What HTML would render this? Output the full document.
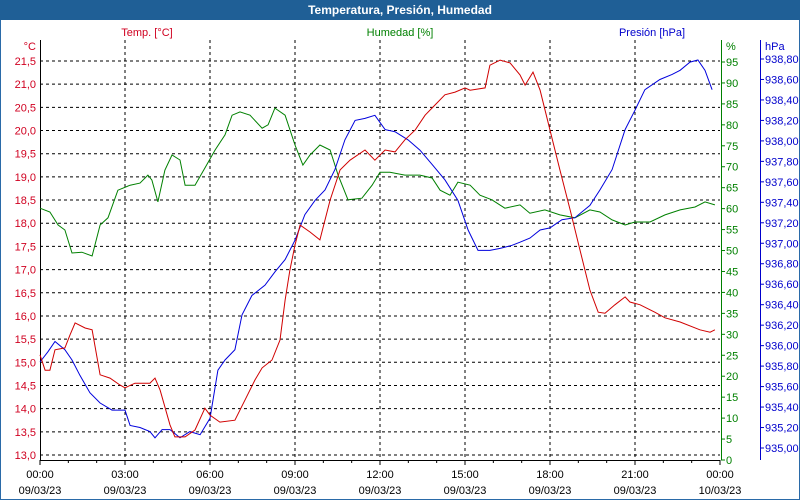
<!DOCTYPE html>
<html><head><meta charset="utf-8"><style>
body{margin:0;width:800px;height:500px;overflow:hidden;background:#fff;font-family:"Liberation Sans",sans-serif}
</style></head><body>
<svg id="c" width="800" height="500" style="position:absolute;left:0;top:0;font-family:'Liberation Sans',sans-serif;font-size:11px">
<rect x="0" y="0" width="800" height="500" fill="#fff" stroke="#2a6aa8" stroke-width="2"/>
<rect x="0" y="0" width="800" height="20" fill="#1f5f96"/>
<text x="400" y="14" fill="#fff" font-weight="bold" font-size="12" text-anchor="middle">Temperatura, Presión, Humedad</text>
<text x="147" y="36" fill="#d00020" text-anchor="middle">Temp. [°C]</text>
<text x="400" y="36" fill="#008000" text-anchor="middle">Humedad [%]</text>
<text x="652" y="36" fill="#0000cc" text-anchor="middle">Presión [hPa]</text>
<text x="36" y="50" fill="#d00020" text-anchor="end">°C</text>
<text x="726" y="50" fill="#008000">%</text>
<text x="765" y="50" fill="#0000cc">hPa</text>
<g id="grid"></g><g id="axes"></g><g id="series"></g>
</svg>
<script>
const tempH=[0,.18,.35,.53,.88,1.06,1.24,1.59,1.84,2.12,2.47,2.82,3,3.35,3.88,4.06,4.24,4.59,4.76,5.12,5.47,5.82,6,6.35,6.88,7.24,7.59,7.84,8.19,8.47,8.65,8.82,9,9.18,9.53,9.88,10.24,10.59,10.94,11.47,11.82,12.18,12.53,12.88,13.24,13.59,13.94,14.29,14.65,15,15.18,15.71,15.88,16.24,16.59,16.94,17.12,17.4,17.65,18,18.35,18.71,19.06,19.41,19.7,19.94,20.29,20.65,20.82,21.18,21.7,22.06,22.59,23.29,23.65,23.82];
const tempV=[15.16,14.83,14.83,15.27,15.31,15.59,15.85,15.74,15.70,14.73,14.66,14.51,14.45,14.55,14.55,14.66,14.40,13.65,13.39,13.39,13.54,14.01,13.86,13.71,13.75,14.19,14.62,14.88,15.05,15.48,16.34,16.99,17.53,17.96,17.81,17.64,18.50,19.15,19.36,19.58,19.36,19.58,19.54,19.80,20.01,20.33,20.55,20.77,20.83,20.92,20.87,20.92,21.41,21.52,21.46,21.20,20.98,21.26,20.87,20.01,19.15,18.29,17.42,16.56,16.08,16.06,16.24,16.41,16.30,16.24,16.08,15.96,15.87,15.70,15.65,15.70];
const humH=[0,.35,.64,.88,1.13,1.48,1.84,2.12,2.4,2.75,3.18,3.53,3.81,3.95,4.16,4.41,4.66,4.94,5.12,5.47,5.82,6.18,6.53,6.78,7.06,7.41,7.84,8.05,8.29,8.65,9,9.28,9.53,9.88,10.24,10.52,10.87,11.36,11.72,12,12.35,12.88,13.41,13.84,14.12,14.47,14.75,15.18,15.53,15.95,16.41,16.94,17.29,17.82,18.35,18.88,19.41,19.76,20.19,20.65,21,21.53,22.06,22.59,23.12,23.47,23.82];
const humV=[60.1,59.2,56.1,54.9,49.4,49.6,48.7,56.1,57.8,64.4,65.6,66.1,68.0,66.8,61.6,69.2,72.8,71.6,65.6,65.6,69.7,74.0,77.6,82.3,83.1,82.3,79.2,80.0,84.0,82.3,75.2,70.4,72.8,75.2,74.0,68.0,62.1,62.5,65.6,68.7,68.7,68.0,68.0,67.3,64.4,63.2,66.3,65.6,63.2,62.1,60.1,60.9,58.9,59.7,58.5,57.8,59.7,59.2,57.3,56.1,56.8,56.8,58.5,59.7,60.4,61.6,60.9];
const presH=[0,.28,.53,.88,1.13,1.41,1.76,2.12,2.54,3,3.18,3.53,3.88,4.06,4.31,4.59,4.94,5.29,5.65,6,6.28,6.53,6.88,7.13,7.48,7.94,8.29,8.65,9,9.35,9.71,10.06,10.41,10.76,11.12,11.47,11.82,12.18,12.53,12.99,13.41,13.84,14.29,14.75,15.11,15.46,15.88,16.24,16.66,16.94,17.29,17.65,18,18.42,18.88,19.41,19.76,20.19,20.65,21,21.35,21.88,22.31,22.59,22.94,23.22,23.47,23.72];
const presV=[935.84,935.94,936.04,935.96,935.86,935.71,935.54,935.44,935.37,935.37,935.22,935.20,935.16,935.10,935.18,935.18,935.10,935.16,935.13,935.29,935.76,935.86,935.96,936.30,936.49,936.59,936.72,936.84,937.03,937.28,937.42,937.52,937.72,938.01,938.20,938.22,938.25,938.11,938.09,938.01,937.91,937.77,937.62,937.42,937.13,936.93,936.93,936.95,936.98,937.01,937.05,937.13,937.15,937.23,937.25,937.37,937.52,937.72,938.11,938.30,938.50,938.60,938.65,938.69,938.77,938.79,938.69,938.50];
const tempTicks=[13.0,13.5,14.0,14.5,15.0,15.5,16.0,16.5,17.0,17.5,18.0,18.5,19.0,19.5,20.0,20.5,21.0,21.5];
const humTicks=[0,5,10,15,20,25,30,35,40,45,50,55,60,65,70,75,80,85,90,95];
const presTicks=[935.0,935.2,935.4,935.6,935.8,936.0,936.2,936.4,936.6,936.8,937.0,937.2,937.4,937.6,937.8,938.0,938.2,938.4,938.6,938.8];
const timeTicks=[0,3,6,9,12,15,18,21,24];
const timeLabels=["00:00","03:00","06:00","09:00","12:00","15:00","18:00","21:00","00:00"];
const dateLabels=["09/03/23","09/03/23","09/03/23","09/03/23","09/03/23","09/03/23","09/03/23","09/03/23","10/03/23"];
const X0=40,X1=720,Y0=40,Y1=460;
const xS=h=>X0+h*(X1-X0)/24;
const yT=v=>455-(v-13)*(455-61)/8.5;
const yH=v=>460-v*(460-62)/95;
const yP=v=>448-(v-935)*(448-59)/3.8;
const NS="http://www.w3.org/2000/svg";
function mk(p,t,a){const e=document.createElementNS(NS,t);for(const k in a)e.setAttribute(k,a[k]);document.getElementById(p).appendChild(e);return e;}
function fmt(v,d){return v.toFixed(d).replace('.',',');}
// grid
timeTicks.forEach((h,i)=>{if(i>0&&i<8){const l=mk('grid','line',{x1:xS(h),x2:xS(h),y1:Y0,y2:Y1,stroke:'#000','stroke-dasharray':'3,3'});

}});
tempTicks.forEach(v=>{const y=yT(v);if(y>Y0&&y<Y1-1){const l=mk('grid','line',{x1:X0,x2:X1,y1:y,y2:y,stroke:'#000','stroke-dasharray':'3,3'});

}});
// axes
let a=mk('axes','line',{x1:X0+.5,x2:X0+.5,y1:Y0,y2:Y1,stroke:'#000'});


a=mk('axes','line',{x1:X0,x2:X1,y1:Y1+.5,y2:Y1+.5,stroke:'#000'});


a=mk('axes','line',{x1:X1+1.5,x2:X1+1.5,y1:Y0,y2:Y1,stroke:'#008000'});


a=mk('axes','line',{x1:760.5,x2:760.5,y1:Y0,y2:Y1,stroke:'#0000cc'});


for(let h=0;h<=24;h++){const x=xS(h);const t=mk('axes','line',{x1:x,x2:x,y1:Y1,y2:Y1+(h%3==0?5:3),stroke:'#000'});

}
timeTicks.forEach((h,i)=>{let t=mk('axes','text',{x:xS(h),y:478,'text-anchor':'middle',fill:'#000'});t.textContent=timeLabels[i];


t=mk('axes','text',{x:xS(h),y:494,'text-anchor':'middle',fill:'#000'});t.textContent=dateLabels[i];

});
tempTicks.forEach(v=>{const t=mk('axes','text',{x:36,y:yT(v)+4,'text-anchor':'end',fill:'#d00020'});t.textContent=fmt(v,1);

});
humTicks.forEach(v=>{const y=yH(v);const k=mk('axes','line',{x1:X1+1,x2:X1+5,y1:y,y2:y,stroke:'#008000'});


const t=mk('axes','text',{x:726,y:y+4,fill:'#008000'});t.textContent=String(v);

});
presTicks.forEach(v=>{const y=yP(v);const k=mk('axes','line',{x1:760,x2:764,y1:y,y2:y,stroke:'#0000cc'});


const t=mk('axes','text',{x:765,y:y+4,fill:'#0000cc'});t.textContent=fmt(v,2);

});
// series
function line(H,V,yf,c,n){const p=mk('series','polyline',{points:H.map((h,i)=>xS(h).toFixed(1)+','+yf(V[i]).toFixed(1)).join(' '),fill:'none',stroke:c,'stroke-width':1});

}
line(humH,humV,yH,'#008000','humidity-line');
line(presH,presV,yP,'#0000dd','pressure-line');
line(tempH,tempV,yT,'#d00000','temperature-line');
</script>
</body></html>
